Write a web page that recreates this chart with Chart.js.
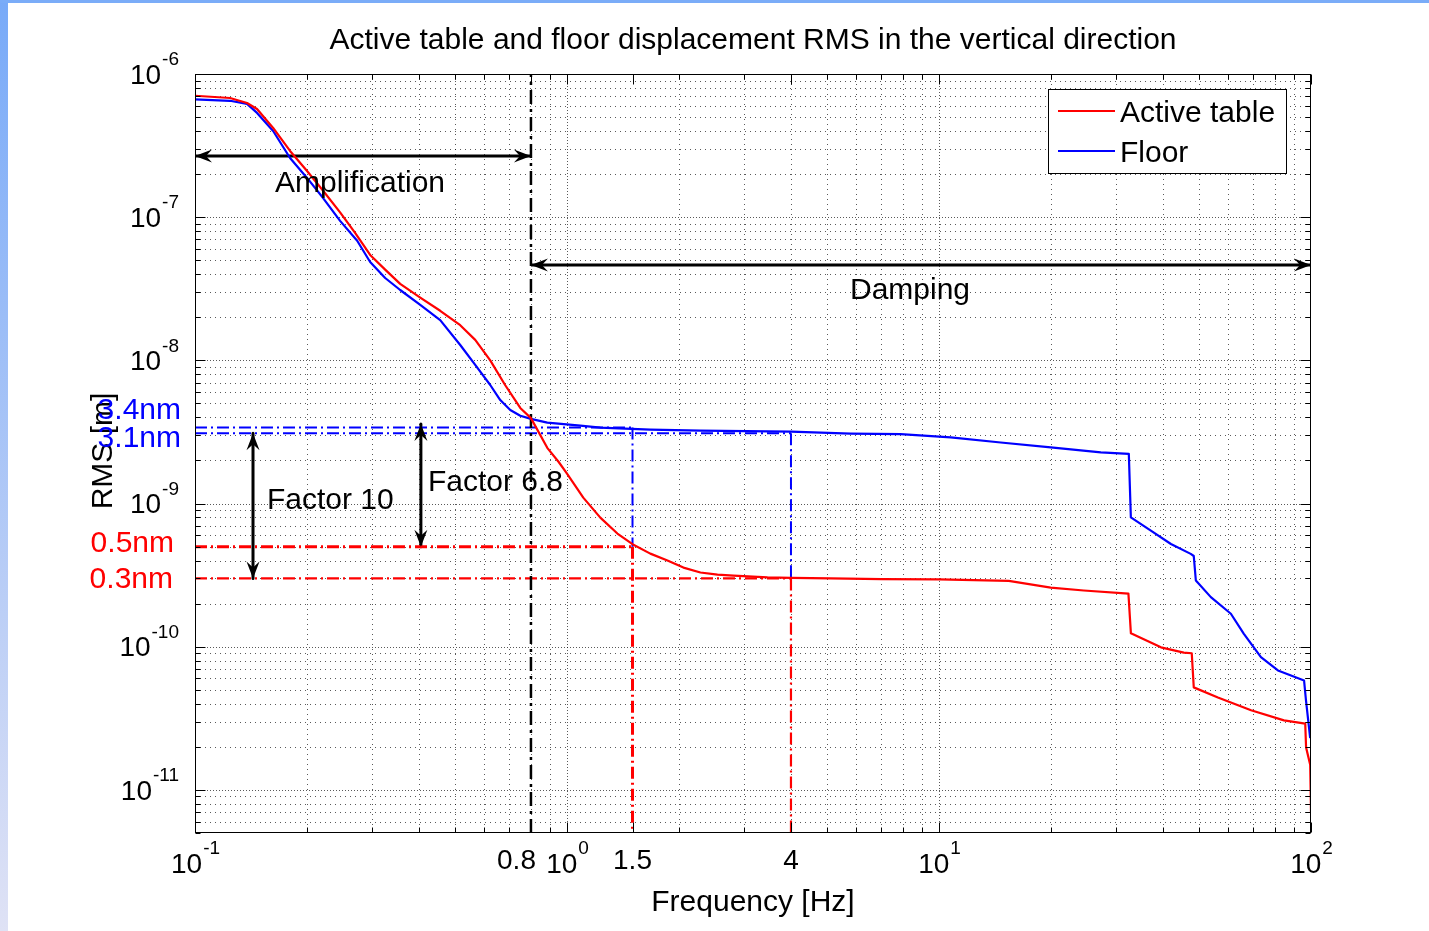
<!DOCTYPE html>
<html>
<head>
<meta charset="utf-8">
<title>Active table and floor displacement RMS</title>
<script src="https://cdn.jsdelivr.net/npm/chart.js@4.4.1/dist/chart.umd.min.js"></script>
<style>
  html, body { margin: 0; padding: 0; background: #fff; }
  #wrap { position: relative; width: 1429px; height: 931px; }
  canvas { display: block; }
</style>
</head>
<body>
<div id="wrap"><canvas id="rmsChart" width="1429" height="931"></canvas></div>
<script>
// axis limits
const xMin = 0.1, xMax = 100;
const yMin = 5e-12, yMax = 1e-6;

// active table RMS [m] vs frequency [Hz]
const activeFreq = [0.1, 0.1242, 0.138, 0.1468, 0.1622, 0.1801, 0.2001, 0.221, 0.2455, 0.2694, 0.2957, 0.3245, 0.3561, 0.4032, 0.4562, 0.5164, 0.5666, 0.6218, 0.6824, 0.7488, 0.8, 0.885, 0.95, 1.0, 1.106, 1.229, 1.366, 1.5, 1.675, 1.862, 2.056, 2.284, 2.538, 2.803, 3.459, 4, 5.11, 7, 10, 15.4, 19.97, 24.5, 32.3, 32.8, 39.5, 45.5, 47.8, 48.4, 56.2, 69, 84.6, 96.5, 97, 99.5, 100];
const activeRms = [7.05e-7, 6.8e-7, 6.27e-7, 5.7e-7, 4.2e-7, 2.9e-7, 2.1e-7, 1.53e-7, 1.08e-7, 7.76e-8, 5.45e-8, 4.3e-8, 3.42e-8, 2.74e-8, 2.22e-8, 1.76e-8, 1.39e-8, 1.0e-8, 6.7e-9, 4.65e-9, 3.95e-9, 2.45e-9, 1.95e-9, 1.62e-9, 1.1e-9, 7.97e-10, 6.17e-10, 5.2e-10, 4.47e-10, 4.0e-10, 3.57e-10, 3.3e-10, 3.19e-10, 3.14e-10, 3.05e-10, 3.03e-10, 3.0e-10, 2.97e-10, 2.95e-10, 2.88e-10, 2.59e-10, 2.47e-10, 2.35e-10, 1.24e-10, 9.9e-11, 9.1e-11, 9.0e-11, 5.2e-11, 4.42e-11, 3.6e-11, 3.06e-11, 2.9e-11, 1.98e-11, 1.5e-11, 7e-12];

// floor RMS [m] vs frequency [Hz]
const floorFreq = [0.1, 0.1242, 0.138, 0.1468, 0.1622, 0.1801, 0.2001, 0.221, 0.2455, 0.2729, 0.2957, 0.3245, 0.3561, 0.4032, 0.4562, 0.5164, 0.5666, 0.6218, 0.6616, 0.7039, 0.7488, 0.8, 0.885, 1.086, 1.229, 1.675, 2.284, 4, 5.785, 7.885, 10.75, 14.65, 19.97, 27.23, 32.38, 32.79, 37.11, 42.02, 47.5, 48.4, 49.03, 53.8, 60.9, 66.0, 73.35, 81.5, 95.8, 96.95, 99.5];
const floorRms = [6.65e-7, 6.5e-7, 6.18e-7, 5.35e-7, 4.0e-7, 2.59e-7, 1.88e-7, 1.36e-7, 9.42e-8, 6.84e-8, 4.86e-8, 3.76e-8, 3.1e-8, 2.44e-8, 1.91e-8, 1.28e-8, 9.3e-9, 6.73e-9, 5.28e-9, 4.5e-9, 4.1e-9, 3.9e-9, 3.67e-9, 3.5e-9, 3.39e-9, 3.28e-9, 3.23e-9, 3.18e-9, 3.08e-9, 3.05e-9, 2.9e-9, 2.67e-9, 2.47e-9, 2.28e-9, 2.22e-9, 8.0e-10, 6.47e-10, 5.22e-10, 4.45e-10, 4.3e-10, 2.9e-10, 2.22e-10, 1.7e-10, 1.23e-10, 8.45e-11, 6.83e-11, 5.81e-11, 4.21e-11, 2.3e-11];

// marker lines
const splitFreq = 0.8;
const floorLevels = [3.4e-9, 3.1e-9];
const activeLevels = [5e-10, 3e-10];
const levelFreq = [1.5, 4];
const floorLevelText = ['3.4nm', '3.1nm'];
const activeLevelText = ['0.5nm', '0.3nm'];

// double arrows
const hArrowFreq = [[0.1, 0.8], [0.8, 100]];
const hArrowRms = [2.68e-7, 4.63e-8];
const vArrowFreq = [0.1432, 0.4048];
const vArrowRms = [[3.1e-9, 3e-10], [3.6e-9, 5e-10]];

// tick labels
const xDecades = [0.1, 1, 10, 100];
const xExtraTicks = [0.8, 1.5, 4];
const yDecades = [1e-6, 1e-7, 1e-8, 1e-9, 1e-10, 1e-11];

const fontFamily = '"Liberation Sans", Arial, Helvetica, sans-serif';
const dashDot = [12, 4, 2, 4];

// grid positions 1..9 x 10^n
function logGrid(lo, hi) {
    let out = [];
    for (let e = Math.floor(Math.log10(lo)) - 1; e <= Math.ceil(Math.log10(hi)); e++) {
        for (let m = 1; m < 10; m++) {
            let v = m * Math.pow(10, e);
            if (v >= lo * 0.999 && v <= hi * 1.001) out.push(v);
        }
    }
    return out;
}
const xGrid = logGrid(xMin, xMax);
const yGrid = logGrid(yMin, yMax);

function isDecade(v) {
    let l = Math.log10(v);
    return Math.abs(l - Math.round(l)) < 1e-6;
}

function pts(xs, ys) {
    return xs.map((x, i) => ({ x: x, y: ys[i] }));
}

function seg(x1, y1, x2, y2, color, width, dash, extra) {
    return Object.assign({
        data: [{ x: x1, y: y1 }, { x: x2, y: y2 }],
        borderColor: color,
        borderWidth: width,
        borderDash: dash || [],
        pointRadius: 0,
        showLine: true,
        fill: false
    }, extra || {});
}

let datasets = [];

// curves
datasets.push({
    label: 'Active table',
    data: pts(activeFreq, activeRms),
    borderColor: '#ff0000',
    borderWidth: 2.2,
    pointRadius: 0,
    showLine: true,
    fill: false
});
datasets.push({
    label: 'Floor',
    data: pts(floorFreq, floorRms),
    borderColor: '#0000ff',
    borderWidth: 2.2,
    pointRadius: 0,
    showLine: true,
    fill: false
});

// dash-dot reference lines
datasets.push(seg(splitFreq, yMin, splitFreq, yMax, '#000', 2.5, [14, 5, 3, 5]));
floorLevels.forEach((lvl, i) => {
    datasets.push(seg(xMin, lvl, levelFreq[i], lvl, '#0000ff', 2, dashDot));
    datasets.push(seg(levelFreq[i], lvl, levelFreq[i], activeLevels[i], '#0000ff', 2, dashDot));
});
activeLevels.forEach((lvl, i) => {
    let w = i === 0 ? 3 : 2.2;
    datasets.push(seg(xMin, lvl, levelFreq[i], lvl, '#ff0000', w, dashDot));
    datasets.push(seg(levelFreq[i], lvl, levelFreq[i], yMin, '#ff0000', w, dashDot));
});

// arrows
hArrowFreq.forEach((f, i) => {
    datasets.push(seg(f[0], hArrowRms[i], f[1], hArrowRms[i], '#000', 3, [], { arrow: true }));
});
vArrowFreq.forEach((f, i) => {
    datasets.push(seg(f, vArrowRms[i][0], f, vArrowRms[i][1], '#000', 3, [], { arrow: true }));
});

function arrowHead(ctx, x, y, ang) {
    ctx.save();
    ctx.translate(x, y);
    ctx.rotate(ang);
    ctx.beginPath();
    ctx.moveTo(0, 0);
    ctx.lineTo(-17, -6.5);
    ctx.lineTo(-11, 0);
    ctx.lineTo(-17, 6.5);
    ctx.closePath();
    ctx.fill();
    ctx.restore();
}

function powLabel(ctx, x, y, exp, align) {
    ctx.font = '28px ' + fontFamily;
    let bw = ctx.measureText('10').width;
    ctx.font = '19px ' + fontFamily;
    let sup = String(exp);
    let sw = ctx.measureText(sup).width;
    let left = align === 'right' ? x - bw - sw : x - (bw + sw) / 2;
    ctx.textAlign = 'left';
    ctx.textBaseline = 'middle';
    ctx.font = '28px ' + fontFamily;
    ctx.fillText('10', left, y + 2);
    ctx.font = '19px ' + fontFamily;
    ctx.fillText(sup, left + bw + 1, y - 14);
}

// background + frame
const framePlugin = {
    id: 'frame',
    beforeDraw(chart) {
        let ctx = chart.ctx;
        ctx.save();
        ctx.fillStyle = '#fff';
        ctx.fillRect(0, 0, chart.width, chart.height);
        let g = ctx.createLinearGradient(0, 0, 0, chart.height);
        g.addColorStop(0, '#78aaf8');
        g.addColorStop(1, '#dfe2f5');
        ctx.fillStyle = g;
        ctx.fillRect(0, 0, 8, chart.height);
        ctx.fillStyle = '#7aacf8';
        ctx.fillRect(0, 0, chart.width, 3);
        ctx.restore();
    }
};

// dotted matlab-like grid
const gridPlugin = {
    id: 'matlabGrid',
    beforeDatasetsDraw(chart) {
        let ctx = chart.ctx, a = chart.chartArea;
        let xs = chart.scales.x, ys = chart.scales.y;
        ctx.save();
        ctx.lineWidth = 1;
        ctx.strokeStyle = 'rgba(0,0,0,0.65)';
        xGrid.forEach(v => {
            let px = Math.round(xs.getPixelForValue(v)) + 0.5;
            if (px <= a.left + 1 || px >= a.right - 1) return;
            ctx.setLineDash(isDecade(v) ? [1, 2] : [1, 4]);
            ctx.beginPath();
            ctx.moveTo(px, a.top);
            ctx.lineTo(px, a.bottom);
            ctx.stroke();
        });
        yGrid.forEach(v => {
            let py = Math.round(ys.getPixelForValue(v)) + 0.5;
            if (py <= a.top + 1 || py >= a.bottom - 1) return;
            ctx.setLineDash(isDecade(v) ? [1, 2] : [1, 4]);
            ctx.beginPath();
            ctx.moveTo(a.left, py);
            ctx.lineTo(a.right, py);
            ctx.stroke();
        });
        ctx.restore();
    }
};

// box, ticks, arrows, texts, legend
const decorPlugin = {
    id: 'decor',
    afterDatasetsDraw(chart) {
        let ctx = chart.ctx, a = chart.chartArea;
        let xs = chart.scales.x, ys = chart.scales.y;
        ctx.save();

        // arrow heads
        ctx.fillStyle = '#000';
        chart.data.datasets.forEach((ds, i) => {
            if (!ds.arrow) return;
            let el = chart.getDatasetMeta(i).data;
            let p0 = el[0], p1 = el[el.length - 1];
            let ang = Math.atan2(p1.y - p0.y, p1.x - p0.x);
            arrowHead(ctx, p1.x, p1.y, ang);
            arrowHead(ctx, p0.x, p0.y, ang + Math.PI);
        });

        // axes box
        ctx.setLineDash([]);
        ctx.strokeStyle = '#000';
        ctx.lineWidth = 1;
        let l = Math.round(a.left) + 0.5, r = Math.round(a.right) - 0.5;
        let t = Math.round(a.top) + 0.5, b = Math.round(a.bottom) - 0.5;
        ctx.strokeRect(l, t, r - l, b - t);

        // inner ticks
        ctx.beginPath();
        xGrid.forEach(v => {
            let px = Math.round(xs.getPixelForValue(v)) + 0.5;
            let len = isDecade(v) ? 10 : 5;
            ctx.moveTo(px, b); ctx.lineTo(px, b - len);
            ctx.moveTo(px, t); ctx.lineTo(px, t + len);
        });
        xExtraTicks.forEach(v => {
            let px = Math.round(xs.getPixelForValue(v)) + 0.5;
            ctx.moveTo(px, b); ctx.lineTo(px, b - 10);
            ctx.moveTo(px, t); ctx.lineTo(px, t + 10);
        });
        yGrid.forEach(v => {
            let py = Math.round(ys.getPixelForValue(v)) + 0.5;
            let len = isDecade(v) ? 10 : 5;
            ctx.moveTo(l, py); ctx.lineTo(l + len, py);
            ctx.moveTo(r, py); ctx.lineTo(r - len, py);
        });
        ctx.stroke();

        // legend
        let lx = 1048, ly = 89, lw = 238, lh = 84;
        ctx.fillStyle = '#fff';
        ctx.fillRect(lx, ly, lw, lh);
        ctx.strokeRect(lx + 0.5, ly + 0.5, lw, lh);
        ctx.font = '30px ' + fontFamily;
        ctx.textAlign = 'left';
        ctx.textBaseline = 'middle';
        chart.data.datasets.slice(0, 2).forEach((ds, i) => {
            let yy = ly + 22 + i * 40;
            ctx.strokeStyle = ds.borderColor;
            ctx.lineWidth = 2;
            ctx.beginPath();
            ctx.moveTo(lx + 10, yy);
            ctx.lineTo(lx + 67, yy);
            ctx.stroke();
            ctx.fillStyle = '#000';
            ctx.fillText(ds.label, lx + 72, yy + 3);
        });
        ctx.restore();
    },
    afterDraw(chart) {
        let ctx = chart.ctx, a = chart.chartArea;
        let xs = chart.scales.x, ys = chart.scales.y;
        ctx.save();
        ctx.fillStyle = '#000';

        // tick labels
        yDecades.forEach(v => {
            powLabel(ctx, a.left - 17, ys.getPixelForValue(v), Math.round(Math.log10(v)), 'right');
        });
        xDecades.forEach(v => {
            powLabel(ctx, xs.getPixelForValue(v), a.bottom + 30, Math.round(Math.log10(v)), 'center');
        });
        ctx.font = '28px ' + fontFamily;
        ctx.textBaseline = 'middle';
        xExtraTicks.forEach(v => {
            let px = xs.getPixelForValue(v);
            if (v === splitFreq) {
                ctx.textAlign = 'right';
                ctx.fillText(String(v), px + 5, a.bottom + 28);
            } else {
                ctx.textAlign = 'center';
                ctx.fillText(String(v), px, a.bottom + 28);
            }
        });

        // titles
        ctx.font = '30px ' + fontFamily;
        ctx.textAlign = 'center';
        ctx.fillText('Active table and floor displacement RMS in the vertical direction', (a.left + a.right) / 2, 41);
        ctx.fillText('Frequency [Hz]', (a.left + a.right) / 2, 903);
        ctx.save();
        ctx.translate(104, 451);
        ctx.rotate(-Math.PI / 2);
        ctx.fillText('RMS [m]', 0, 0);
        ctx.restore();

        // annotations
        ctx.fillText('Amplification', 360, 184);
        ctx.fillText('Damping', 910, 291);
        ctx.textAlign = 'left';
        ctx.fillText('Factor 10', 267, 501);
        ctx.fillText('Factor 6.8', 428, 483);

        ctx.textAlign = 'right';
        ctx.fillStyle = '#0000ff';
        ctx.fillText(floorLevelText[0], 181, ys.getPixelForValue(floorLevels[0]) - 17);
        ctx.fillText(floorLevelText[1], 181, ys.getPixelForValue(floorLevels[1]) + 6);
        ctx.fillStyle = '#ff0000';
        ctx.fillText(activeLevelText[0], 174, ys.getPixelForValue(activeLevels[0]) - 3);
        ctx.fillText(activeLevelText[1], 173, ys.getPixelForValue(activeLevels[1]) + 1);
        ctx.restore();
    }
};

let ctx = document.getElementById('rmsChart');

let rmsChart = new Chart(ctx, {
    type: 'scatter',
    data: { datasets: datasets },
    options: {
        responsive: false,
        animation: false,
        devicePixelRatio: 1,
        layout: { padding: { left: 195, top: 74, right: 118, bottom: 98 } },
        elements: { line: { tension: 0, borderJoinStyle: 'round' } },
        plugins: {
            legend: { display: false },
            tooltip: { enabled: false },
            title: { display: false }
        },
        scales: {
            x: { type: 'logarithmic', min: xMin, max: xMax, display: false },
            y: { type: 'logarithmic', min: yMin, max: yMax, display: false }
        }
    },
    plugins: [framePlugin, gridPlugin, decorPlugin]
});
</script>
</body>
</html>
